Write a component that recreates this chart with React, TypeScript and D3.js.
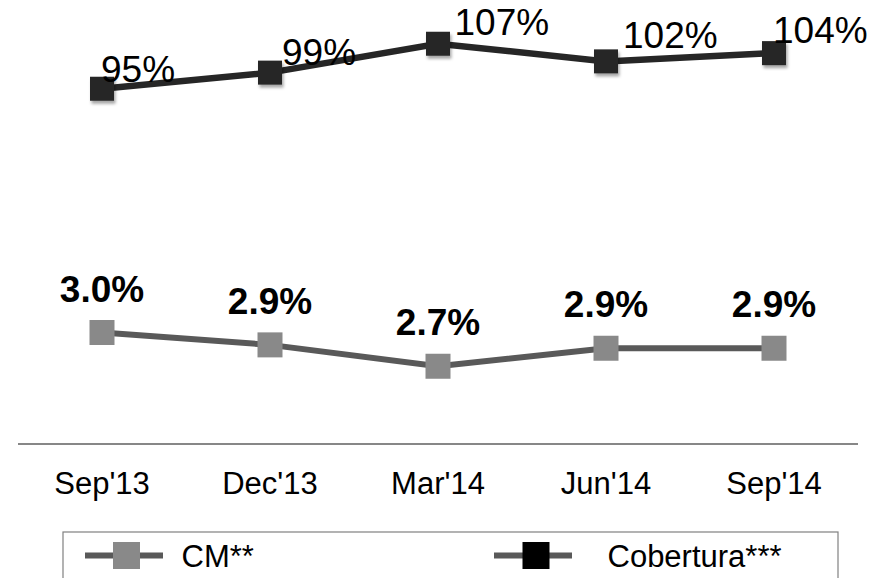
import * as d3 from 'd3';

const quarters = ["Sep'13", "Dec'13", "Mar'14", "Jun'14", "Sep'14"];
const coberturaValues = [95, 99.3, 107, 102.3, 104.5];
const coberturaLabels = ['95%', '99%', '107%', '102%', '104%'];
const cmValues = [3.0, 2.89, 2.7, 2.86, 2.86];
const cmLabels = ['3.0%', '2.9%', '2.7%', '2.9%', '2.9%'];

// hand-placed label nudges for the top series (as in the source deck)
const coberturaNudge = [
  { dx: -1, dy: -6.5 },
  { dx: 12, dy: -7.5 },
  { dx: 16.5, dy: -8.5 },
  { dx: 17, dy: -13 },
  { dx: -1, dy: -10 },
];

const W = 887;
const H = 578;
const font = 'Liberation Sans, Arial, sans-serif';

export default function App() {
  const x = d3.scaleBand<string>().domain(quarters).range([18, 858]);
  const cx = (d: string) => (x(d) ?? 0) + x.bandwidth() / 2;
  const yCob = d3.scaleLinear().domain([0, 120]).range([445, -5]);
  const yCm = d3.scaleLinear().domain([2, 6]).range([445, -5]);

  const cobLine = d3
    .line<number>()
    .x((_, i) => cx(quarters[i]))
    .y((v) => yCob(v));
  const cmLine = d3
    .line<number>()
    .x((_, i) => cx(quarters[i]))
    .y((v) => yCm(v));

  const mCob = 24;
  const mCm = 25;
  const legY = 555.5;

  return (
    <svg
      width={W}
      height={H}
      viewBox={`0 0 ${W} ${H}`}
      style={{ position: 'absolute', left: 0, top: 0, background: '#fff' }}
      fontFamily={font}
    >
      <defs>
        <filter id="shadow" x="-30%" y="-30%" width="170%" height="170%">
          <feDropShadow dx="1.5" dy="3" stdDeviation="1.5" floodColor="#000" floodOpacity="0.35" />
        </filter>
      </defs>

      <line x1={18} x2={858} y1={yCob(0) - 1} y2={yCob(0) - 1} stroke="#878787" strokeWidth={2} />

      {/* CM series */}
      <path d={cmLine(cmValues) ?? ''} fill="none" stroke="#595959" strokeWidth={6} />
      {cmValues.map((v, i) => (
        <rect
          key={'cm' + i}
          x={cx(quarters[i]) - mCm / 2}
          y={yCm(v) - mCm / 2}
          width={mCm}
          height={mCm}
          fill="#898989"
        />
      ))}
      {cmValues.map((v, i) => (
        <text
          key={'cml' + i}
          x={cx(quarters[i])}
          y={yCm(v) - 31}
          textAnchor="middle"
          fontSize={37}
          fontWeight="bold"
          fill="#000"
        >
          {cmLabels[i]}
        </text>
      ))}

      {/* Cobertura series */}
      <path d={cobLine(coberturaValues) ?? ''} fill="none" stroke="#262626" strokeWidth={6.5} />
      {coberturaValues.map((v, i) => (
        <rect
          key={'cb' + i}
          x={cx(quarters[i]) - mCob / 2}
          y={yCob(v) - mCob / 2}
          width={mCob}
          height={mCob}
          fill="#262626"
          filter="url(#shadow)"
        />
      ))}
      {coberturaValues.map((v, i) => (
        <text
          key={'cbl' + i}
          x={cx(quarters[i]) + coberturaNudge[i].dx}
          y={yCob(v) + coberturaNudge[i].dy}
          fontSize={37}
          fill="#000"
        >
          {coberturaLabels[i]}
        </text>
      ))}

      {/* category labels */}
      {quarters.map((q) => (
        <text key={q} x={cx(q)} y={494} textAnchor="middle" fontSize={31} fill="#000">
          {q}
        </text>
      ))}

      {/* legend */}
      <rect x={63} y={532} width={775} height={60} fill="none" stroke="#808080" strokeWidth={1.2} />
      <line x1={85} x2={163} y1={legY} y2={legY} stroke="#595959" strokeWidth={6} />
      <rect x={126.5 - 13.5} y={legY - 13.5} width={27} height={27} fill="#898989" />
      <text x={181.5} y={566.5} fontSize={31} fill="#000">
        CM**
      </text>
      <line x1={494} x2={572} y1={legY} y2={legY} stroke="#595959" strokeWidth={6} />
      <rect x={536 - 13.5} y={legY - 13.5} width={27} height={27} fill="#000" />
      <text x={607.5} y={566.5} fontSize={31} fill="#000">
        Cobertura***
      </text>
    </svg>
  );
}
